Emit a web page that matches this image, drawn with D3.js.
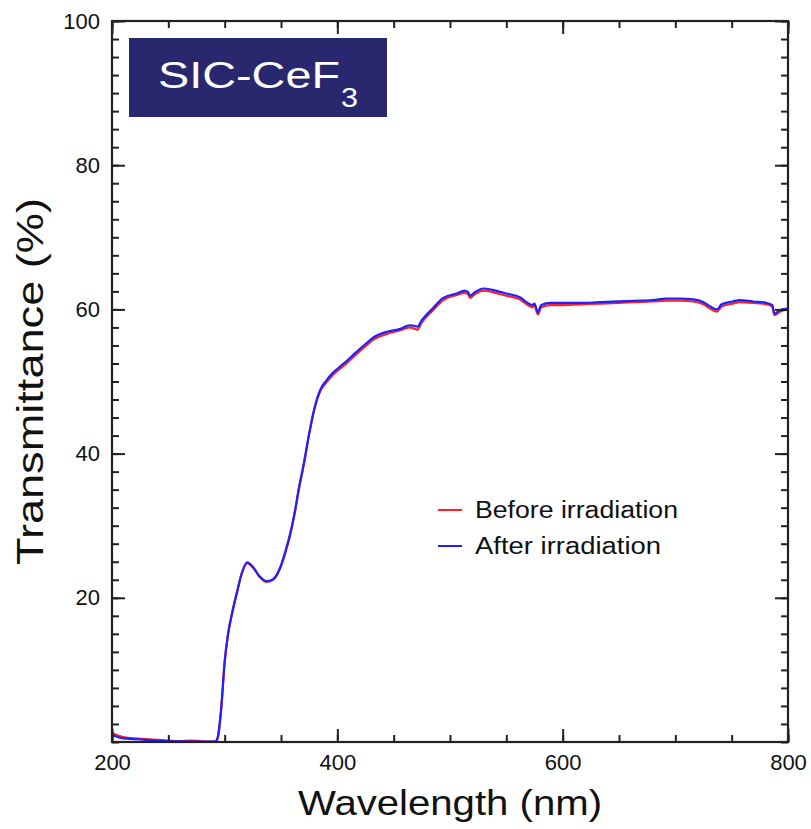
<!DOCTYPE html>
<html><head><meta charset="utf-8">
<script src="https://cdn.jsdelivr.net/npm/d3@7"></script>
<style>body{margin:0;background:#fff}svg{display:block}text{font-family:"Liberation Sans",Arial,Helvetica,sans-serif}</style>
</head><body>
<script>
const wavelength = [200,205,210,220,230,240,250,260,270,280,290,292,294,297,300,303,307,311,315,320,325,331,337,343,349,354,358,362,366,370,375,380,385,390,396,405,417,425,432,444,456,464,469,471,475,485,494,506,513,516,518,522,530,538,550,562,568,573,575,578,581,589,598,615,633,650,663,680,692,705,716,725,731,737,741,751,757,769,781,786,788,793,800];
const before = [1.3,0.9,0.7,0.5,0.4,0.3,0.2,0.1,0.2,0.1,0.05,0.05,0.6,4.6,11.0,14.9,18.1,20.8,23.3,24.8,24.2,22.9,22.2,22.5,24.0,26.3,28.6,31.6,35.2,38.3,42.7,46.4,48.7,49.8,50.9,52.1,53.8,54.9,55.8,56.6,57.1,57.5,57.3,57.2,58.2,59.9,61.3,62.0,62.3,62.1,61.6,62.1,62.6,62.4,61.9,61.4,60.7,60.3,60.5,59.3,60.3,60.6,60.6,60.7,60.8,60.9,61.0,61.1,61.2,61.2,61.1,60.7,60.1,59.7,60.4,60.8,61.0,60.9,60.7,60.4,59.2,59.7,60.0];
const after = [1.0,0.7,0.5,0.4,0.3,0.2,0.1,0.1,0.05,0.05,0.05,0.1,0.8,4.9,11.2,15.0,18.2,20.8,23.3,24.9,24.3,23.0,22.3,22.6,24.1,26.5,28.8,31.7,35.3,38.4,42.8,46.5,48.9,50.1,51.2,52.4,54.1,55.2,56.1,56.9,57.3,57.8,57.7,57.6,58.5,60.2,61.6,62.2,62.6,62.4,61.9,62.4,62.9,62.7,62.2,61.7,61.0,60.6,60.8,59.6,60.6,60.9,60.9,60.9,61.0,61.1,61.2,61.3,61.5,61.5,61.4,61.0,60.4,60.0,60.7,61.1,61.3,61.1,60.9,60.6,59.4,59.9,60.1];
const xTicks = [200,400,600,800];
const yTicks = [20,40,60,80,100];
const seriesNames = ["Before irradiation","After irradiation"];
const seriesColors = ["#ff2020","#2020ff"];

const W=811,H=829;
const L=112,R=788,T=21,B=742;
const svg=d3.select("body").append("svg").attr("width",W).attr("height",H);
const x=d3.scaleLinear().domain([200,800]).range([L,R]);
const y=d3.scaleLinear().domain([0,100]).range([B,T]);
const axisColor="#222";

svg.append("clipPath").attr("id","clip").append("rect").attr("x",L).attr("y",T).attr("width",R-L).attr("height",B-T);

const line=d3.line().x(d=>x(d[0])).y(d=>y(d[1])).curve(d3.curveMonotoneX);
[before,after].forEach((s,i)=>{
  svg.append("path").attr("clip-path","url(#clip)")
    .datum(wavelength.map((w,j)=>[w,s[j]]))
    .attr("d",line).attr("fill","none").attr("stroke",seriesColors[i]).attr("stroke-width",2.2).attr("stroke-linejoin","round");
});

// axes (ticks inward)
const xMinor=d3.range(200,801,50), yMinor=d3.range(0,100.01,2.5);
function addAxis(axis, tr){
  const g=svg.append("g").attr("transform",tr).call(axis);
  g.select(".domain").remove();
  g.selectAll("line").attr("stroke",axisColor).attr("stroke-width",2);
  g.selectAll("text").attr("fill","#111").style("font-size","22px");
  return g;
}
// bottom
addAxis(d3.axisBottom(x).tickValues(xMinor).tickSize(-7).tickFormat(""),`translate(0,${B})`);
const gb=addAxis(d3.axisBottom(x).tickValues(xTicks).tickSize(-13).tickPadding(-2).tickFormat(d3.format("d")),`translate(0,${B})`);
gb.selectAll("text").attr("y",0).attr("dy","27px").attr("dy",null).attr("y",28);
// top
addAxis(d3.axisTop(x).tickValues(xMinor).tickSize(-7).tickFormat(""),`translate(0,${T})`);
addAxis(d3.axisTop(x).tickValues(xTicks).tickSize(-13).tickFormat(""),`translate(0,${T})`);
// left
addAxis(d3.axisLeft(y).tickValues(yMinor).tickSize(-7).tickFormat(""),`translate(${L},0)`);
const gl=addAxis(d3.axisLeft(y).tickValues(yTicks).tickSize(-13).tickFormat(d3.format("d")),`translate(${L},0)`);
gl.selectAll("text").attr("x",-12);
// right
addAxis(d3.axisRight(y).tickValues(yMinor).tickSize(-7).tickFormat(""),`translate(${R},0)`);
addAxis(d3.axisRight(y).tickValues(yTicks).tickSize(-13).tickFormat(""),`translate(${R},0)`);

svg.append("rect").attr("x",L).attr("y",T).attr("width",R-L).attr("height",B-T)
  .attr("fill","none").attr("stroke",axisColor).attr("stroke-width",2.2);

// titles
svg.append("text").attr("x",298).attr("y",815).attr("textLength",304).attr("lengthAdjust","spacingAndGlyphs")
  .style("font-size","35px").attr("fill","#111").text("Wavelength (nm)");
svg.append("text").attr("transform","translate(43,565) rotate(-90)").attr("textLength",367).attr("lengthAdjust","spacingAndGlyphs")
  .style("font-size","37px").attr("fill","#111").text("Transmittance (%)");

// label box
svg.append("rect").attr("x",129).attr("y",38).attr("width",258).attr("height",79).attr("fill","#29286f");
svg.append("text").attr("x",158).attr("y",88).attr("textLength",182).attr("lengthAdjust","spacingAndGlyphs")
  .style("font-size","36px").attr("fill","#fff").text("SIC-CeF");
svg.append("text").attr("x",341).attr("y",107).attr("textLength",17).attr("lengthAdjust","spacingAndGlyphs")
  .style("font-size","27px").attr("fill","#fff").text("3");

// legend
const legY=[510,546], legLen=[203,186];
seriesNames.forEach((n,i)=>{
  svg.append("line").attr("x1",438).attr("x2",462).attr("y1",legY[i]).attr("y2",legY[i]).attr("stroke",seriesColors[i]).attr("stroke-width",2);
  svg.append("text").attr("x",475).attr("y",legY[i]+8).attr("textLength",legLen[i]).attr("lengthAdjust","spacingAndGlyphs")
    .style("font-size","23px").attr("fill","#111").text(n);
});
</script>
</body></html>
